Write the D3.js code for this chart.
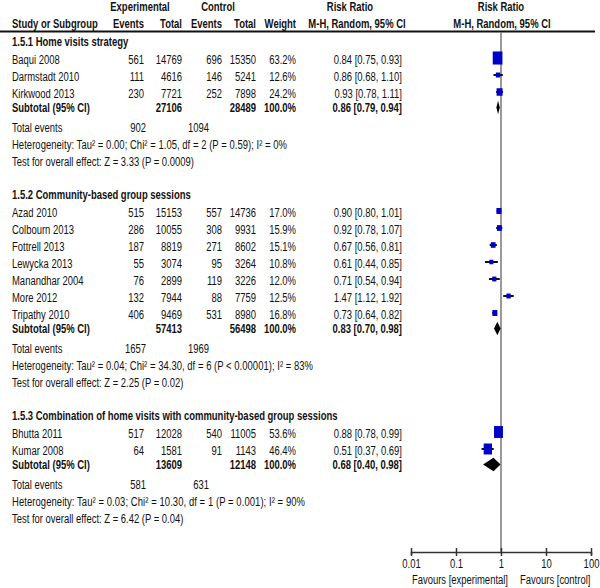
<!DOCTYPE html>
<html><head><meta charset="utf-8">
<script src="https://cdn.jsdelivr.net/npm/d3@7"></script>
<style>
html,body{margin:0;padding:0;background:#fff;}
svg text{font-family:"Liberation Sans",Arial,sans-serif;font-size:12px;fill:#111;}
</style></head>
<body>
<script>
// ---------- data ----------
const groupTitles = ["1.5.1 Home visits strategy", "1.5.2 Community-based group sessions", "1.5.3 Combination of home visits with community-based group sessions"];
const studyNames = ["Baqui 2008","Darmstadt 2010","Kirkwood 2013","Azad 2010","Colbourn 2013","Fottrell 2013","Lewycka 2013","Manandhar 2004","More 2012","Tripathy 2010","Bhutta 2011","Kumar 2008"];
const studyGroup = [0,0,0,1,1,1,1,1,1,1,2,2];
const expEvents = [561,111,230,515,286,187,55,76,132,406,517,64];
const expTotal = [14769,4616,7721,15153,10055,8819,3074,2899,7944,9469,12028,1581];
const ctlEvents = [696,146,252,557,308,271,95,119,88,531,540,91];
const ctlTotal = [15350,5241,7898,14736,9931,8602,3264,3226,7759,8980,11005,1143];
const weights = [63.2,12.6,24.2,17.0,15.9,15.1,10.8,12.0,12.5,16.8,53.6,46.4];
const rr = [0.84,0.86,0.93,0.90,0.92,0.67,0.61,0.71,1.47,0.73,0.88,0.51];
const rrLow = [0.75,0.68,0.78,0.80,0.78,0.56,0.44,0.54,1.12,0.64,0.78,0.37];
const rrHigh = [0.93,1.10,1.11,1.01,1.07,0.81,0.85,0.94,1.92,0.82,0.99,0.69];
const subExpTotal = [27106,57413,13609];
const subCtlTotal = [28489,56498,12148];
const subRR = [0.86,0.83,0.68];
const subLow = [0.79,0.70,0.40];
const subHigh = [0.94,0.98,0.98];
const totExpEvents = [902,1657,581];
const totCtlEvents = [1094,1969,631];
const heterogeneity = [
  "Heterogeneity: Tau² = 0.00; Chi² = 1.05, df = 2 (P = 0.59); I² = 0%",
  "Heterogeneity: Tau² = 0.04; Chi² = 34.30, df = 6 (P < 0.00001); I² = 83%",
  "Heterogeneity: Tau² = 0.03; Chi² = 10.30, df = 1 (P = 0.001); I² = 90%"
];
const overallTests = [
  "Test for overall effect: Z = 3.33 (P = 0.0009)",
  "Test for overall effect: Z = 2.25 (P = 0.02)",
  "Test for overall effect: Z = 6.42 (P = 0.04)"
];
const axisTicks = [0.01,0.1,1,10,100];
const axisTickLabels = ["0.01","0.1","1","10","100"];
const favourLabels = ["Favours [experimental]","Favours [control]"];

// ---------- drawing ----------
const W = 600, H = 588;
const svg = d3.select("body").append("svg").attr("width",W).attr("height",H);

// horizontal compression factors to mimic the narrow font of the reference
function natural(s, bold) {
  const p = svg.append("text").style("font-weight", bold ? "bold" : "normal").text(s);
  const l = p.node().getComputedTextLength(); p.remove(); return l;
}
const sxR = Math.min(1, 182 / natural(overallTests[0], false));
const sxB = Math.min(1, 326 / natural(groupTitles[2], true));
const hetWidths = [275, 301, 293];

function txt(x, y, s, anchor, bold) {
  const k = bold ? sxB : sxR;
  return svg.append("text")
    .attr("transform", `translate(${x},${y}) scale(${k},1)`)
    .attr("dy","0.35em")
    .attr("text-anchor", anchor || "start")
    .style("font-weight", bold ? "bold" : "normal")
    .text(s);
}

const col = {name:12, expE:144, expT:182, ctlE:222, ctlT:256, wt:296, rr:402, totCtl:209};
const x = d3.scaleLog().domain([0.01,100]).range([411,591]);
const axisY = 552;
const fmt2 = d3.format(".2f"), fmt1 = d3.format(".1f");
const rrText = (m,l,h) => `${fmt2(m)} [${fmt2(l)}, ${fmt2(h)}]`;

// headers
txt(140, 7, "Experimental", "middle", true);
txt(218, 7, "Control", "middle", true);
txt(350, 7, "Risk Ratio", "middle", true);
txt(501, 7, "Risk Ratio", "middle", true);
txt(col.name, 24, "Study or Subgroup", "start", true);
txt(col.expE, 24, "Events", "end", true);
txt(col.expT, 24, "Total", "end", true);
txt(col.ctlE, 24, "Events", "end", true);
txt(col.ctlT, 24, "Total", "end", true);
txt(col.wt, 24, "Weight", "end", true);
txt(357, 24, "M-H, Random, 95% CI", "middle", true);
txt(502, 24, "M-H, Random, 95% CI", "middle", true);
svg.append("line").attr("x1",0).attr("x2",595).attr("y1",31.5).attr("y2",31.5)
  .attr("stroke","#111").attr("stroke-width",2);

// null line
svg.append("line").attr("x1",x(1)).attr("x2",x(1)).attr("y1",32).attr("y2",axisY)
  .attr("stroke","#777").attr("stroke-width",1.5);

const wScale = d3.scaleSqrt().domain([0,100]).range([0,12.2]);
const markG = svg.append("g");

let y = 42;
groupTitles.forEach((title, g) => {
  txt(col.name, y, title, "start", true);
  y += 17.5;
  const idx = studyNames.map((_,i)=>i).filter(i => studyGroup[i] === g);
  idx.forEach((i, k) => {
    if (k > 0) y += 17;
    txt(col.name, y, studyNames[i]);
    txt(col.expE, y, expEvents[i], "end");
    txt(col.expT, y, expTotal[i], "end");
    txt(col.ctlE, y, ctlEvents[i], "end");
    txt(col.ctlT, y, ctlTotal[i], "end");
    txt(col.wt, y, fmt1(weights[i]) + "%", "end");
    txt(col.rr, y, rrText(rr[i], rrLow[i], rrHigh[i]), "end");
    const my = y - 1.5;
    markG.append("line").attr("x1",x(rrLow[i])).attr("x2",x(rrHigh[i]))
      .attr("y1",my).attr("y2",my).attr("stroke","#111").attr("stroke-width",2);
    const bw = wScale(weights[i]);
    const bh = bw + Math.max(0,(bw-3))*0.5;
    markG.append("rect").attr("x",x(rr[i])-bw/2).attr("y",my-bh/2)
      .attr("width",bw).attr("height",bh).attr("fill","#0000c8");
  });
  y += 14;
  txt(col.name, y, "Subtotal (95% CI)", "start", true);
  txt(col.expT, y, subExpTotal[g], "end", true);
  txt(col.ctlT, y, subCtlTotal[g], "end", true);
  txt(col.wt, y, "100.0%", "end", true);
  txt(col.rr, y, rrText(subRR[g], subLow[g], subHigh[g]), "end", true);
  const dy = y, dh = 6.8;
  markG.append("path")
    .attr("d", `M${x(subLow[g])},${dy} L${x(subRR[g])},${dy-dh} L${x(subHigh[g])},${dy} L${x(subRR[g])},${dy+dh} Z`)
    .attr("fill","#000");
  y += 20.5;
  txt(col.name, y, "Total events");
  txt(col.expE + 2, y, totExpEvents[g], "end");
  txt(col.totCtl, y, totCtlEvents[g], "end");
  y += 17;
  txt(col.name, y, heterogeneity[g])
    .attr("textLength", hetWidths[g] / sxR).attr("lengthAdjust", "spacing");
  y += 17;
  txt(col.name, y, overallTests[g]);
  y += 33;
});

// axis
const axis = d3.axisBottom(x).tickValues(axisTicks)
  .tickFormat((d,i) => axisTickLabels[i]).tickSizeOuter(0).tickSize(3);
const ag = svg.append("g").attr("transform",`translate(0,${axisY})`).call(axis);
ag.attr("font-family",null).attr("font-size",null);
ag.select(".domain").attr("stroke","#333").attr("stroke-width",1.5);
ag.selectAll(".tick line").attr("y1",-4).attr("y2",4).attr("stroke","#333").attr("stroke-width",1.5);
ag.selectAll(".tick text").attr("y",7).attr("dy","0.71em")
  .attr("transform",`scale(${sxR},1)`).attr("fill","#111");

txt(508, 580, favourLabels[0], "end");
txt(520, 580, favourLabels[1], "start");
</script>
</body></html>
